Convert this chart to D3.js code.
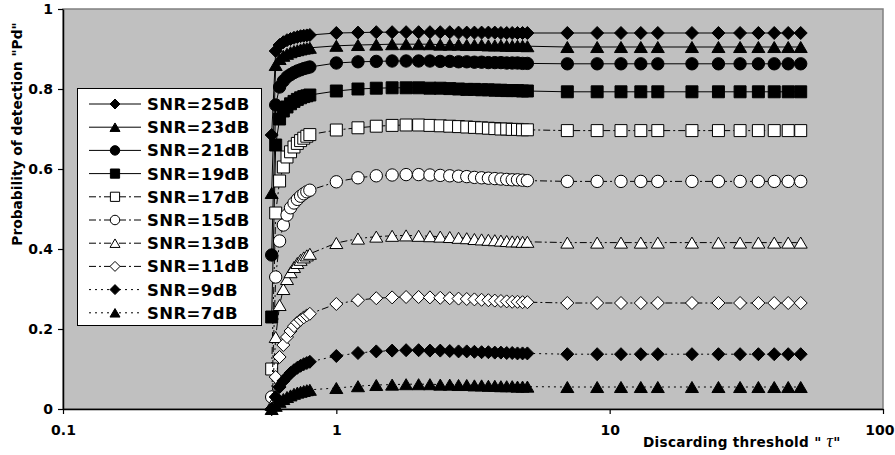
<!DOCTYPE html>
<html>
<head>
<meta charset="utf-8">
<script src="https://cdn.jsdelivr.net/npm/d3@7"></script>
<style>
  html, body { margin: 0; padding: 0; background: #fff; }
  svg { display: block; }
</style>
</head>
<body>
<svg id="chart" width="895" height="455"></svg>
<script>
// ---------------- DATA ----------------
const thresholds = [0.58,0.6,0.62,0.64,0.66,0.68,0.7,0.72,0.74,0.76,0.78,0.8,
  1,1.2,1.4,1.6,1.8,2,2.2,2.4,2.6,2.8,3,3.2,3.4,3.6,3.8,4,4.2,4.4,4.6,4.8,5,
  7,9,11,13,15,20,25,30,35,40,45,50];

const snr25 = [0.685,0.895,0.91,0.917,0.922,0.925,0.928,0.93,0.932,0.933,0.934,0.935,
  0.94,0.941,0.942,0.942,0.942,0.942,0.942,0.942,0.942,0.941,0.941,0.941,0.941,0.941,0.941,0.94,0.94,0.94,0.94,0.94,0.94,
  0.94,0.94,0.94,0.94,0.94,0.94,0.94,0.94,0.94,0.94,0.94,0.94];
const snr23 = [0.54,0.86,0.875,0.883,0.888,0.892,0.895,0.897,0.899,0.901,0.902,0.903,
  0.908,0.91,0.911,0.912,0.912,0.912,0.912,0.911,0.911,0.911,0.91,0.91,0.91,0.909,0.909,0.909,0.908,0.908,0.908,0.908,0.907,
  0.905,0.905,0.905,0.905,0.905,0.905,0.905,0.905,0.905,0.905,0.905,0.905];
const snr21 = [0.385,0.76,0.805,0.82,0.83,0.836,0.841,0.845,0.848,0.851,0.853,0.855,
  0.865,0.868,0.869,0.87,0.87,0.87,0.87,0.869,0.869,0.868,0.868,0.867,0.867,0.866,0.866,0.866,0.865,0.865,0.865,0.864,0.864,
  0.863,0.863,0.863,0.863,0.863,0.863,0.863,0.863,0.863,0.863,0.863,0.863];
const snr19 = [0.23,0.66,0.725,0.745,0.755,0.763,0.769,0.774,0.778,0.781,0.783,0.785,
  0.795,0.8,0.802,0.803,0.803,0.803,0.802,0.802,0.801,0.8,0.799,0.799,0.798,0.798,0.797,0.797,0.796,0.796,0.796,0.795,0.795,
  0.793,0.793,0.793,0.793,0.793,0.793,0.793,0.793,0.793,0.793,0.793,0.793];
const snr17 = [0.1,0.49,0.57,0.605,0.63,0.643,0.655,0.664,0.671,0.677,0.682,0.686,
  0.6975,0.703,0.707,0.709,0.71,0.71,0.709,0.708,0.707,0.706,0.705,0.704,0.703,0.702,0.701,0.7,0.7,0.699,0.699,0.698,0.698,
  0.696,0.696,0.696,0.696,0.696,0.696,0.696,0.696,0.696,0.696,0.696,0.696];
const snr15 = [0.03,0.33,0.42,0.46,0.485,0.503,0.515,0.524,0.532,0.538,0.543,0.547,
  0.568,0.578,0.583,0.585,0.586,0.586,0.585,0.584,0.583,0.582,0.581,0.579,0.578,0.577,0.576,0.575,0.574,0.573,0.573,0.572,0.571,
  0.569,0.569,0.569,0.569,0.569,0.569,0.569,0.569,0.569,0.569,0.569,0.569];
const snr13 = [0.01,0.18,0.26,0.3,0.325,0.342,0.355,0.365,0.373,0.379,0.384,0.388,
  0.415,0.426,0.431,0.433,0.434,0.433,0.432,0.431,0.43,0.428,0.427,0.425,0.424,0.423,0.422,0.421,0.42,0.419,0.419,0.418,0.418,
  0.416,0.416,0.416,0.416,0.416,0.416,0.416,0.416,0.416,0.416,0.416,0.416];
const snr11 = [0,0.08,0.13,0.16,0.18,0.195,0.207,0.216,0.223,0.229,0.234,0.238,
  0.2625,0.272,0.277,0.279,0.28,0.28,0.279,0.278,0.277,0.276,0.275,0.274,0.273,0.272,0.271,0.27,0.269,0.268,0.268,0.267,0.267,
  0.265,0.265,0.265,0.265,0.265,0.265,0.265,0.265,0.265,0.265,0.265,0.265];
const snr9 = [0,0.03,0.055,0.07,0.08,0.09,0.097,0.103,0.108,0.112,0.115,0.118,
  0.1325,0.14,0.144,0.146,0.147,0.147,0.146,0.146,0.145,0.144,0.144,0.143,0.142,0.142,0.141,0.141,0.14,0.14,0.139,0.139,0.139,
  0.137,0.137,0.137,0.137,0.137,0.137,0.137,0.137,0.137,0.137,0.137,0.137];
const snr7 = [0,0.008,0.018,0.025,0.03,0.034,0.038,0.041,0.043,0.045,0.047,0.048,
  0.0525,0.057,0.06,0.061,0.062,0.062,0.062,0.061,0.061,0.06,0.06,0.059,0.059,0.058,0.058,0.057,0.057,0.057,0.056,0.056,0.056,
  0.055,0.055,0.055,0.055,0.055,0.055,0.055,0.055,0.055,0.055,0.055,0.055];

const seriesNames = ["SNR=25dB","SNR=23dB","SNR=21dB","SNR=19dB","SNR=17dB",
                     "SNR=15dB","SNR=13dB","SNR=11dB","SNR=9dB","SNR=7dB"];
const seriesValues = [snr25, snr23, snr21, snr19, snr17, snr15, snr13, snr11, snr9, snr7];
const xTicks = [0.1, 1, 10, 100];
const yTicks = [0, 0.2, 0.4, 0.6, 0.8, 1];

// ---------------- STYLES ----------------
const styles = [
  {shape:"diamond",  fill:"#000", dash:null},
  {shape:"triangle", fill:"#000", dash:null},
  {shape:"circle",   fill:"#000", dash:null},
  {shape:"square",   fill:"#000", dash:null},
  {shape:"square",   fill:"#fff", dash:"7,3,2,3"},
  {shape:"circle",   fill:"#fff", dash:"7,3,2,3"},
  {shape:"triangle", fill:"#fff", dash:"7,3,2,3"},
  {shape:"diamond",  fill:"#fff", dash:"7,3,2,3"},
  {shape:"diamond",  fill:"#000", dash:"2,4"},
  {shape:"triangle", fill:"#000", dash:"2,4"}
];

function markerPath(shape, r) {
  switch (shape) {
    case "diamond": return `M0,${-r}L${r},0L0,${r}L${-r},0Z`;
    case "square": { const s = r * 0.92; return `M${-s},${-s}H${s}V${s}H${-s}Z`; }
    case "circle": { const c = r * 0.95; return `M${c},0A${c},${c} 0 1,1 ${-c},0A${c},${c} 0 1,1 ${c},0Z`; }
    case "triangle": { const h = r * 1.7; return `M0,${-h/2}L${r},${h/2}L${-r},${h/2}Z`; }
  }
}

// ---------------- CHART ----------------
const svg = d3.select("#chart");
const L = 63, R = 883, T = 9, B = 409;
const x = d3.scaleLog().domain([0.1, 100]).range([L, R]);
const y = d3.scaleLinear().domain([0, 1]).range([B, T]);
const FONT = "'DejaVu Sans', 'Liberation Sans', Arial, sans-serif";

svg.append("rect").attr("x", L).attr("y", T).attr("width", R - L).attr("height", B - T)
  .attr("fill", "#c0c0c0").attr("stroke", "#808080").attr("stroke-width", 1.5);

// axes
const yAxis = svg.append("g").attr("transform", `translate(${L},0)`)
  .call(d3.axisLeft(y).tickValues(yTicks).tickSize(5).tickSizeOuter(0).tickPadding(5)
    .tickFormat(d => d3.format("")(d)));
const xAxis = svg.append("g").attr("transform", `translate(0,${B})`)
  .call(d3.axisBottom(x).tickValues(xTicks).tickSize(5).tickSizeOuter(0).tickPadding(11)
    .tickFormat(d => String(d)));
[yAxis, xAxis].forEach(g => {
  g.select(".domain").attr("stroke", "#000").attr("stroke-width", 1.5);
  g.selectAll(".tick line").attr("stroke", "#000").attr("stroke-width", 1.2);
  g.selectAll(".tick text").attr("fill", "#000")
    .style("font-family", FONT).style("font-weight", "bold").style("font-size", "14px");
});
// keep the last x label inside the picture
xAxis.selectAll(".tick text").filter(d => d === xTicks[xTicks.length - 1])
  .attr("text-anchor", "end").attr("x", 11);

// series
const line = d3.line().x(d => x(d.x)).y(d => y(d.y));
seriesValues.forEach((vals, i) => {
  const st = styles[i];
  const pts = thresholds.map((t, j) => ({x: t, y: vals[j]}));
  const g = svg.append("g");
  g.append("path").datum(pts).attr("d", line).attr("fill", "none")
    .attr("stroke", "#000").attr("stroke-width", 1)
    .attr("stroke-dasharray", st.dash);
  g.selectAll("path.m").data(pts).enter().append("path").attr("class", "m")
    .attr("transform", d => `translate(${x(d.x)},${y(d.y)})`)
    .attr("d", markerPath(st.shape, 6.5))
    .attr("fill", st.fill).attr("stroke", "#000").attr("stroke-width", 1);
});

// legend
const leg = svg.append("g");
leg.append("rect").attr("x", 77.5).attr("y", 88.5).attr("width", 184).attr("height", 237)
  .attr("fill", "#fff").attr("stroke", "#000").attr("stroke-width", 1);
seriesNames.forEach((name, i) => {
  const st = styles[i];
  const cy = 104 + i * 23.2;
  leg.append("line").attr("x1", 89).attr("x2", 141).attr("y1", cy).attr("y2", cy)
    .attr("stroke", "#000").attr("stroke-width", 1).attr("stroke-dasharray", st.dash);
  leg.append("path").attr("transform", `translate(115,${cy})`)
    .attr("d", markerPath(st.shape, 5))
    .attr("fill", st.fill).attr("stroke", "#000").attr("stroke-width", 1);
  leg.append("text").attr("x", 147).attr("y", cy + 6)
    .style("font-family", FONT).style("font-weight", "bold").style("font-size", "16.5px")
    .style("letter-spacing", "0.4px")
    .text(name);
});

// axis titles
const xt = svg.append("text").attr("x", 643).attr("y", 447)
  .style("font-family", FONT).style("font-weight", "bold").style("font-size", "13.6px")
  .style("letter-spacing", "0.3px");
xt.append("tspan").text('Discarding threshold " ');
xt.append("tspan").style("font-family", "'Liberation Serif', 'DejaVu Serif', serif")
  .style("font-style", "italic").style("font-weight", "normal").style("font-size", "18px").text("τ");
xt.append("tspan").text('"');

svg.append("text").attr("transform", "translate(22,134) rotate(-90)")
  .attr("text-anchor", "middle")
  .style("font-family", FONT).style("font-weight", "bold").style("font-size", "13.8px")
  .text('Probability of detection "Pd"');
</script>
</body>
</html>
